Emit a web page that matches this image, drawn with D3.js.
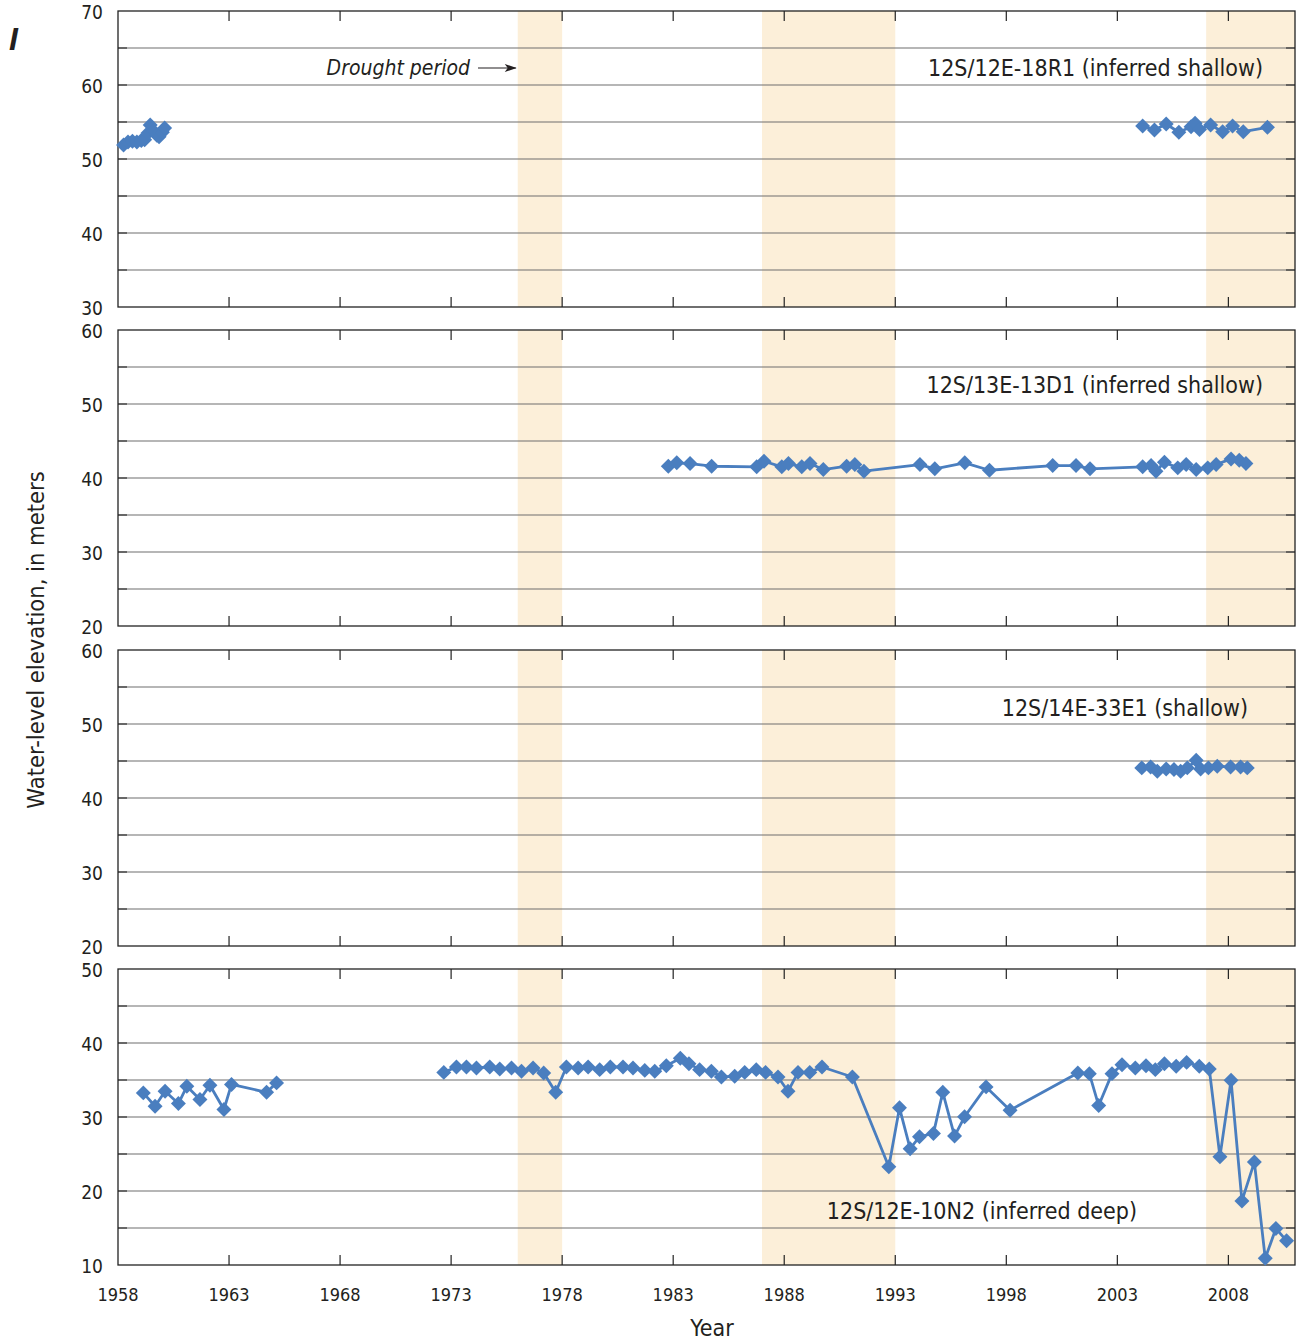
<!DOCTYPE html>
<html>
<head>
<meta charset="utf-8">
<script src="https://cdn.jsdelivr.net/npm/d3@7"></script>
<style>
  html, body { margin: 0; padding: 0; background: #fff; }
  svg { display: block; font-family: "Liberation Sans Narrow", "DejaVu Sans Condensed", "Arial Narrow", "Liberation Sans", sans-serif; }
</style>
</head>
<body>
<svg id="chart" width="1301" height="1343"></svg>
<script>
// Water-level elevation hydrographs for four wells, in meters
const yearTicks = [1958, 1963, 1968, 1973, 1978, 1983, 1988, 1993, 1998, 2003, 2008];
const droughtPeriods = [[1976, 1978], [1987, 1993], [2007, 2011]];

const wellNames = [
  "12S/12E-18R1 (inferred shallow)",
  "12S/13E-13D1 (inferred shallow)",
  "12S/14E-33E1 (shallow)",
  "12S/12E-10N2 (inferred deep)"
];

const wellRanges = [[30, 70], [20, 60], [20, 60], [10, 50]];

const well18R1 = [
  [1958.25, 51.9], [1958.45, 52.3], [1958.65, 52.4], [1958.85, 52.3], [1959.05, 52.5],
  [1959.2, 52.6], [1959.35, 53.5], [1959.45, 54.6], [1959.6, 53.8], [1959.75, 53.2],
  [1959.85, 53.0], [1960.0, 53.6], [1960.1, 54.2],
  [2004.14, 54.46], [2004.67, 53.92], [2005.2, 54.73], [2005.77, 53.61], [2006.32, 54.37],
  [2006.5, 54.82], [2006.7, 54.0], [2007.2, 54.59], [2007.74, 53.69], [2008.19, 54.46],
  [2008.67, 53.69], [2009.76, 54.28]
];

const well13D1 = [
  [1982.78, 41.59], [1983.16, 42.05], [1983.76, 41.95], [1984.73, 41.59], [1986.76, 41.51],
  [1987.09, 42.26], [1987.89, 41.51], [1988.19, 41.95], [1988.79, 41.51], [1989.16, 41.95],
  [1989.76, 41.14], [1990.81, 41.59], [1991.18, 41.82], [1991.59, 40.92], [1994.11, 41.82],
  [1994.78, 41.24], [1996.13, 42.05], [1997.24, 41.05], [2000.09, 41.68], [2001.14, 41.68],
  [2001.77, 41.24], [2004.14, 41.51], [2004.52, 41.68], [2004.74, 40.92], [2005.12, 42.13],
  [2005.72, 41.37], [2006.1, 41.82], [2006.55, 41.14], [2007.07, 41.37], [2007.45, 41.82],
  [2008.12, 42.58], [2008.49, 42.4], [2008.79, 41.95]
];

const well33E1 = [
  [2004.1, 44.07], [2004.5, 44.2], [2004.8, 43.61], [2005.2, 43.93], [2005.55, 43.84],
  [2005.85, 43.61], [2006.15, 44.07], [2006.55, 45.09], [2006.75, 43.93], [2007.1, 44.07],
  [2007.5, 44.28], [2008.1, 44.2], [2008.55, 44.2], [2008.85, 44.07]
];

const well10N2 = [
  [1959.14, 33.26], [1959.67, 31.45], [1960.12, 33.47], [1960.72, 31.82], [1961.1, 34.15],
  [1961.69, 32.36], [1962.14, 34.3], [1962.77, 31.01], [1963.11, 34.4], [1964.69, 33.34],
  [1965.14, 34.61],
  [1972.67, 36.03], [1973.24, 36.76], [1973.69, 36.76], [1974.14, 36.63], [1974.74, 36.76],
  [1975.19, 36.49], [1975.72, 36.63], [1976.17, 36.17], [1976.69, 36.63], [1977.17, 35.95],
  [1977.71, 33.34], [1978.19, 36.76], [1978.72, 36.63], [1979.17, 36.76], [1979.69, 36.4],
  [1980.17, 36.76], [1980.74, 36.76], [1981.19, 36.63], [1981.72, 36.3], [1982.17, 36.17],
  [1982.69, 36.94], [1983.32, 37.95], [1983.71, 37.21], [1984.19, 36.4], [1984.72, 36.17],
  [1985.17, 35.41], [1985.77, 35.5], [1986.22, 36.03], [1986.74, 36.4], [1987.16, 36.03],
  [1987.72, 35.41], [1988.17, 33.47], [1988.62, 36.03], [1989.15, 36.03], [1989.7, 36.76],
  [1991.07, 35.41], [1992.71, 23.29], [1993.19, 31.24], [1993.67, 25.72], [1994.09, 27.33],
  [1994.72, 27.78], [1995.14, 33.34], [1995.67, 27.42], [1996.12, 30.03], [1997.09, 34.07],
  [1998.17, 30.92], [2001.22, 35.95], [2001.74, 35.86], [2002.16, 31.55], [2002.76, 35.86],
  [2003.21, 37.07], [2003.81, 36.63], [2004.29, 36.94], [2004.71, 36.4], [2005.12, 37.21],
  [2005.65, 36.85], [2006.12, 37.38], [2006.69, 36.85], [2007.14, 36.49], [2007.62, 24.64],
  [2008.12, 34.96], [2008.61, 18.66], [2009.17, 23.91], [2009.66, 10.9], [2010.14, 14.94],
  [2010.62, 13.27]
];

const wellSeries = [well18R1, well13D1, well33E1, well10N2];

// records more than this many years apart are drawn as separate line segments
const maxGapYears = 5;

// ---- layout ----
const left = 118, right = 1295;
const panelTops = [11, 330, 650, 969];
const panelH = 296;
const lineColor = "#4a7ebf";
const bandColor = "#fcefd9";
const textColor = "#231f20";

const svg = d3.select("#chart");

const x = d3.scaleLinear().domain([1958, 2011]).range([left, right]);

const diamond = d3.symbol().type(d3.symbolSquare).size(112);

function splitSegments(series) {
  const segs = [];
  let cur = [];
  series.forEach((d, i) => {
    if (i > 0 && d[0] - series[i - 1][0] > maxGapYears) { segs.push(cur); cur = []; }
    cur.push(d);
  });
  segs.push(cur);
  return segs;
}

wellSeries.forEach((series, i) => {
  const top = panelTops[i];
  const bottom = top + panelH;
  const [lo, hi] = wellRanges[i];
  const y = d3.scaleLinear().domain([lo, hi]).range([bottom, top]);
  const g = svg.append("g");

  // drought bands
  g.selectAll("rect.band").data(droughtPeriods).join("rect")
    .attr("x", d => x(d[0])).attr("width", d => x(d[1]) - x(d[0]))
    .attr("y", top).attr("height", panelH)
    .attr("fill", bandColor);

  // horizontal gridlines every 5 m
  const grid = d3.range(lo + 5, hi, 5);
  g.selectAll("line.grid").data(grid).join("line")
    .attr("x1", left).attr("x2", right)
    .attr("y1", d => y(d)).attr("y2", d => y(d))
    .attr("stroke", "#6e6e6e").attr("stroke-width", 1.1);

  // short dark ticks on the left and right edges
  [[left, left + 9], [right - 9, right]].forEach(([a, b]) => {
    g.selectAll(null).data(grid).join("line")
      .attr("x1", a).attr("x2", b)
      .attr("y1", d => y(d)).attr("y2", d => y(d))
      .attr("stroke", "#333").attr("stroke-width", 1.2);
  });

  // year ticks on top and bottom edges, pointing inward
  const inner = yearTicks.filter(t => t > 1958);
  g.selectAll(null).data(inner).join("line")
    .attr("x1", d => x(d)).attr("x2", d => x(d))
    .attr("y1", top).attr("y2", top + 10)
    .attr("stroke", "#222").attr("stroke-width", 1.2);
  g.selectAll(null).data(inner).join("line")
    .attr("x1", d => x(d)).attr("x2", d => x(d))
    .attr("y1", bottom - 10).attr("y2", bottom)
    .attr("stroke", "#222").attr("stroke-width", 1.2);

  // frame
  g.append("rect")
    .attr("x", left).attr("y", top).attr("width", right - left).attr("height", panelH)
    .attr("fill", "none").attr("stroke", "#222").attr("stroke-width", 1.3);

  // y tick labels every 10 m
  g.selectAll("text.ytick").data(d3.range(lo, hi + 1, 10)).join("text")
    .attr("x", 103).attr("y", d => y(d))
    .attr("dy", "0.42em")
    .attr("text-anchor", "end")
    .attr("font-size", 19).attr("fill", textColor)
    .text(d => d);

  // hydrograph line (broken across long gaps in the record) and diamond markers
  const line = d3.line().x(d => x(d[0])).y(d => y(d[1]));
  g.selectAll("path.seg").data(splitSegments(series)).join("path")
    .attr("d", line).attr("fill", "none")
    .attr("stroke", lineColor).attr("stroke-width", 2.8)
    .attr("stroke-linejoin", "round");
  g.selectAll("path.pt").data(series).join("path")
    .attr("d", diamond)
    .attr("transform", d => `translate(${x(d[0])},${y(d[1])}) rotate(45)`)
    .attr("fill", lineColor);
});

// well name labels
const nameLayout = [
  { x: 1263, y: 76 },
  { x: 1263, y: 393 },
  { x: 1248, y: 716 },
  { x: 1137, y: 1219 }
];
wellNames.forEach((name, i) => {
  svg.append("text")
    .attr("x", nameLayout[i].x).attr("y", nameLayout[i].y)
    .attr("text-anchor", "end")
    .attr("font-size", 23).attr("fill", textColor)
    .text(name);
});

// drought annotation
svg.append("text")
  .attr("x", 470).attr("y", 75)
  .attr("text-anchor", "end")
  .attr("font-size", 21).attr("font-style", "italic").attr("fill", textColor)
  .text("Drought period");
svg.append("line")
  .attr("x1", 478).attr("x2", x(droughtPeriods[0][0]) - 2)
  .attr("y1", 68).attr("y2", 68)
  .attr("stroke", textColor).attr("stroke-width", 1.2);
svg.append("path")
  .attr("d", `M${x(droughtPeriods[0][0]) - 1},68 l-12,-4 l3,4 l-3,4 z`)
  .attr("fill", textColor);

// x tick labels
svg.selectAll("text.xtick").data(yearTicks).join("text")
  .attr("x", d => x(d)).attr("y", 1301)
  .attr("text-anchor", "middle")
  .attr("font-size", 18).attr("fill", textColor)
  .text(d => d);

// axis titles
svg.append("text")
  .attr("x", 712).attr("y", 1336)
  .attr("text-anchor", "middle")
  .attr("font-size", 23).attr("fill", textColor)
  .text("Year");
svg.append("text")
  .attr("transform", "translate(44,640) rotate(-90)")
  .attr("text-anchor", "middle")
  .attr("font-size", 23.5).attr("fill", textColor)
  .text("Water-level elevation, in meters");

// panel letter
svg.append("text")
  .attr("x", 9).attr("y", 50)
  .attr("font-size", 32).attr("font-weight", "bold").attr("font-style", "italic")
  .attr("font-family", "'Liberation Sans', sans-serif")
  .attr("fill", textColor)
  .text("I");
</script>
</body>
</html>
